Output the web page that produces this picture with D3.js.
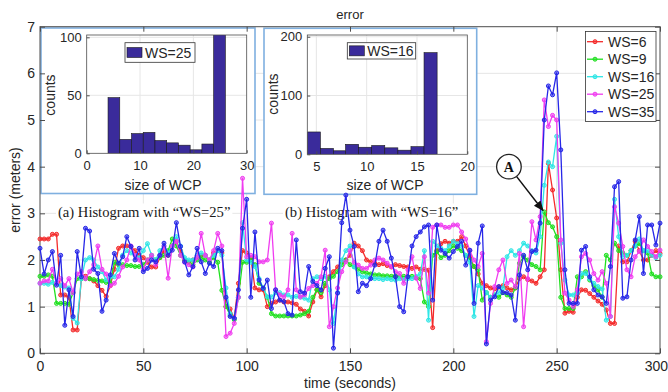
<!DOCTYPE html>
<html>
<head>
<meta charset="utf-8">
<script src="https://cdn.jsdelivr.net/npm/d3@7"></script>
<style>
  body { margin: 0; background: #fff; }
  svg { display: block; }
</style>
</head>
<body>
<svg id="chart" width="668" height="392"></svg>
<script>
// ---- data ----
const timeSec = [
  0, 2, 4, 6, 8, 10, 12, 14, 16, 18, 20, 22, 24, 26, 28, 30, 32, 34, 36, 38,
  40, 42, 44, 46, 48, 50, 52, 54, 56, 58, 60, 62, 64, 66, 68, 70, 72, 74, 76, 78,
  80, 82, 84, 86, 88, 90, 92, 94, 96, 98, 100, 102, 104, 106, 108, 110, 112, 114, 116, 118,
  120, 122, 124, 126, 128, 130, 132, 134, 136, 138, 140, 142, 144, 146, 148, 150, 152, 154, 156, 158,
  160, 162, 164, 166, 168, 170, 172, 174, 176, 178, 180, 182, 184, 186, 188, 190, 192, 194, 196, 198,
  200, 202, 204, 206, 208, 210, 212, 214, 216, 218, 220, 222, 224, 226, 228, 230, 232, 234, 236, 238,
  240, 242, 244, 246, 248, 250, 252, 254, 256, 258, 260, 262, 264, 266, 268, 270, 272, 274, 276, 278,
  280, 282, 284, 286, 288, 290, 292, 294, 296, 298, 300
];

const ws6 = [
  2.45, 2.45, 2.45, 2.55, 2.55, 1.25, 1.25, 1.2, 0.5, 0.5,
  1.6, 1.65, 1.6, 1.55, 1.45, 1.35, 1.22, 1.45, 1.8, 2.25,
  2.3, 2.3, 2.28, 2.2, 2.1, 2.05, 1.95, 1.85, 1.85, 2.05,
  2.2, 2.1, 2.3, 2.4, 2.2, 2.0, 1.95, 2.0, 2.05, 2.1,
  2.1, 2.0, 2.15, 2.2, 2.15, 1.0, 0.95, 0.75, 1.5, 2.2,
  2.15, 2.05, 1.4, 1.36, 1.36, 1.0, 1.07, 1.1, 1.14, 1.1,
  1.1, 1.08, 1.05, 0.95, 0.9, 0.8, 1.1, 1.36, 1.21, 1.45,
  1.64, 1.75, 1.85, 1.96, 2.0, 2.1, 2.36, 2.3, 2.2, 2.0,
  1.96, 1.93, 1.9, 1.92, 1.88, 1.85, 1.9, 1.88, 1.86, 1.85,
  1.82, 1.85, 1.8, 1.8, 1.78, 0.55, 2.2, 2.35, 2.4, 2.36,
  2.4, 2.4, 2.5, 2.3, 2.07, 1.86, 1.7, 1.5, 1.45, 1.4,
  1.38, 1.42, 1.45, 1.4, 1.36, 1.4, 1.6, 1.64, 1.58, 1.55,
  1.5, 1.64, 1.79, 4.07, 3.5, 2.9, 1.79, 0.86, 0.9, 0.88,
  1.2, 1.36, 1.35, 1.28, 1.2, 1.12, 1.05, 0.93, 0.64, 0.64,
  2.3, 1.96, 1.96, 2.2, 2.4, 2.2, 2.0, 2.0, 2.1, 2.2,
  2.14
];

const ws9 = [
  1.65, 1.65, 1.68, 1.65, 1.07, 1.07, 1.07, 1.05, 1.3, 1.6,
  1.6, 1.6, 1.6, 1.58, 1.56, 1.55, 1.52, 1.5, 1.95, 1.9,
  1.9, 1.88, 1.88, 1.86, 1.86, 1.9, 2.0, 2.1, 2.0, 2.05,
  2.1, 2.2, 2.45, 2.3, 2.1, 2.0, 1.95, 1.9, 2.0, 2.05,
  2.0, 1.95, 2.05, 1.95, 1.35, 1.0, 0.82, 0.72, 1.2, 1.95,
  1.95, 2.0, 1.9, 1.5, 1.4, 1.2, 0.85, 0.8, 0.8, 0.8,
  0.8, 0.8, 0.8, 0.82, 0.85, 0.9, 1.2, 1.36, 1.3, 1.5,
  1.6, 1.65, 1.75, 1.9, 2.0, 1.9, 1.86, 1.8, 1.75, 1.72,
  1.7, 1.68, 1.68, 1.66, 1.66, 1.65, 1.66, 1.64, 1.65, 1.64,
  1.65, 1.62, 1.6, 1.1, 1.0, 2.1, 2.18, 2.05, 2.1, 2.2,
  2.3, 2.25, 2.2, 2.1, 2.0, 1.86, 1.79, 1.14, 1.3, 1.2,
  1.25, 1.2, 1.3, 1.25, 1.2, 1.4, 1.93, 2.07, 2.0, 1.9,
  1.86, 1.79, 3.03, 2.8, 2.71, 2.5, 1.2, 0.96, 0.96, 0.96,
  1.64, 1.64, 1.75, 1.57, 1.45, 1.36, 1.2, 2.1, 2.0, 2.36,
  2.2, 2.15, 2.1, 2.2, 2.3, 2.35, 2.2, 2.15, 1.7, 1.64,
  1.64
];

const ws16 = [
  1.5, 1.5, 1.48, 1.52, 1.5, 1.45, 1.42, 1.4, 0.75, 0.65,
  1.6, 2.0, 2.05, 2.0, 1.85, 1.75, 1.57, 1.64, 1.64, 1.8,
  2.1, 2.2, 2.15, 2.1, 2.05, 2.2, 2.35, 2.1, 2.0, 2.2,
  2.3, 2.15, 2.3, 2.5, 2.3, 2.05, 2.0, 2.0, 2.1, 2.15,
  2.1, 2.0, 2.1, 2.2, 2.1, 1.4, 0.85, 0.75, 1.2, 2.8,
  2.0, 1.95, 1.86, 1.6, 1.4, 1.21, 1.21, 1.3, 1.3, 1.25,
  1.25, 1.2, 1.22, 1.2, 1.18, 1.14, 1.6, 1.64, 1.6, 1.65,
  1.36, 0.64, 1.3, 2.0, 2.2, 2.3, 1.85, 1.7, 1.64, 1.64,
  1.62, 1.6, 1.6, 1.58, 1.6, 1.58, 1.57, 1.6, 1.58, 1.6,
  1.6, 1.65, 1.7, 2.2, 0.71, 2.4, 2.3, 2.25, 2.2, 2.3,
  2.4, 2.35, 2.3, 2.1, 1.95, 0.79, 1.45, 1.4, 1.3, 1.2,
  1.25, 1.3, 1.4, 2.07, 2.2, 2.1, 2.2, 2.36, 2.3, 2.2,
  2.15, 2.5, 3.6, 4.1, 4.0, 4.65, 2.36, 1.57, 1.25, 1.25,
  1.3, 1.71, 1.71, 1.6, 1.5, 1.43, 1.38, 0.71, 0.79, 3.3,
  2.5, 2.07, 2.1, 2.2, 2.3, 2.45, 2.2, 2.2, 2.1, 2.05,
  2.1
];

const ws25 = [
  1.5, 1.55, 1.55, 1.8, 1.5, 1.6, 1.45, 1.6, 1.3, 1.7,
  1.75, 1.6, 1.75, 1.9, 2.3, 1.8, 1.7, 1.45, 1.5, 1.65,
  1.85, 2.0, 2.3, 2.1, 2.0, 1.8, 2.0, 2.1, 1.9, 2.1,
  2.3, 1.61, 2.3, 2.4, 2.1, 1.95, 1.9, 1.85, 2.05, 2.57,
  2.1, 2.0, 2.2, 2.57, 2.3, 0.36, 0.43, 0.64, 1.2, 3.75,
  2.07, 2.1, 2.07, 1.96, 1.96, 2.0, 2.79, 1.36, 1.25, 1.21,
  1.36, 2.57, 1.36, 1.21, 1.25, 1.39, 1.45, 1.5, 1.64, 2.21,
  0.57, 1.0, 1.4, 1.75, 1.96, 2.2, 1.95, 1.89, 1.82, 1.82,
  1.89, 2.0, 2.04, 2.0, 1.93, 1.86, 1.75, 1.71, 1.5, 1.79,
  2.07, 1.61, 1.39, 2.07, 1.29, 2.7, 2.75, 2.75, 2.7, 2.7,
  2.75, 2.75, 2.6, 2.45, 2.2, 2.0, 1.86, 2.14, 0.25, 1.07,
  1.43, 1.79, 2.0, 1.5, 1.57, 1.43, 2.14, 0.57, 1.6, 2.82,
  2.43, 2.93, 5.43, 4.86, 5.1, 5.0, 2.43, 1.29, 1.14, 1.0,
  1.36, 2.07, 2.14, 2.0, 1.71, 1.57, 1.75, 1.5, 0.79, 3.14,
  2.79, 2.29, 1.79, 1.64, 2.07, 2.18, 2.43, 2.29, 2.18, 2.07,
  2.21
];

const ws35 = [
  2.25, 1.7, 2.0, 2.18, 1.46, 2.1, 0.6, 1.36, 0.79, 2.18,
  1.64, 2.68, 2.62, 1.8, 1.71, 0.9, 1.14, 1.68, 2.14, 1.93,
  2.07, 2.5, 2.29, 2.0, 2.25, 1.75, 1.82, 2.0, 1.96, 2.1,
  2.36, 2.1, 2.21, 2.8, 2.29, 1.96, 1.68, 1.86, 2.25, 1.96,
  1.71, 1.93, 1.86, 2.25, 2.2, 1.2, 0.79, 0.75, 1.36, 2.68,
  3.3, 1.2, 2.6, 1.57, 1.39, 1.57, 0.96, 1.36, 1.14, 1.11,
  0.85, 0.82, 2.43, 1.32, 1.29, 1.86, 1.54, 1.45, 1.36, 1.82,
  2.07, 0.11, 1.29, 2.8, 3.39, 2.64, 2.29, 1.32, 1.5, 1.45,
  1.6, 1.89, 2.4, 2.64, 2.4, 2.04, 1.64, 1.0, 0.89, 1.64,
  2.3, 2.5, 2.6, 2.71, 2.75, 1.14, 2.75, 2.21, 2.14, 2.04,
  2.18, 2.29, 2.4, 1.89, 2.21, 1.07, 2.36, 2.73, 0.2, 1.14,
  1.21, 1.43, 1.3, 1.3, 1.25, 0.71, 1.68, 2.1, 1.79, 2.18,
  2.21, 2.79, 5.0, 5.73, 5.54, 6.01, 4.36, 1.79, 1.07, 1.07,
  1.07, 2.21, 2.29, 1.64, 1.36, 1.25, 1.21, 1.07, 1.86, 3.57,
  3.68, 1.18, 1.21, 2.0, 2.43, 2.93, 1.71, 2.75, 2.75, 2.32,
  2.79
];

const seriesNames = ["WS=6", "WS=9", "WS=16", "WS=25", "WS=35"];
const seriesColors = ["#f42a2a", "#1fe01f", "#2ee6e6", "#f03cf0", "#2626e8"];
const xTicks = [0, 50, 100, 150, 200, 250, 300];
const yTicks = [0, 1, 2, 3, 4, 5, 6, 7];

// histogram insets
const hist25Edges = [4, 6.2, 8.4, 10.6, 12.8, 15, 17.2, 19.4, 21.6, 23.8, 26];
const hist25Counts = [48, 12, 17, 18, 11, 9, 7, 3, 8, 110];
const hist25XTicks = [0, 10, 20, 30];
const hist25YTicks = [0, 50, 100];
const hist16Edges = [4.1, 5.4, 6.7, 7.9, 9.2, 10.5, 11.8, 13.1, 14.4, 15.7, 17.0];
const hist16Counts = [38, 10, 6, 17, 12, 15, 11, 7, 13, 173];
const hist16XTicks = [5, 10, 15, 20];
const hist16YTicks = [0, 100, 200];

// ---- drawing ----
const FONT = "Arial, 'Liberation Sans', sans-serif";
const SERIF = "'Times New Roman', 'Liberation Serif', serif";
const axisColor = "#4d4d4d";
const textColor = "#262626";
const gridColor = "#e6e6e6";
const barColor = "#3a2b9b";
const intFmt = d3.format("d");

const svg = d3.select("#chart").attr("font-family", FONT);
const plot = { left: 40, right: 660, top: 26.7, bottom: 353.3 };

const x = d3.scaleLinear().domain([0, 300]).range([plot.left, plot.right]);
const y = d3.scaleLinear().domain([0, 7]).range([plot.bottom, plot.top]);

// grid
const grid = svg.append("g").attr("class", "grid");
grid.selectAll("line.gx")
  .data(xTicks.slice(1, -1))
  .join("line")
  .attr("class", "gx")
  .attr("x1", (d) => x(d)).attr("x2", (d) => x(d))
  .attr("y1", plot.top).attr("y2", plot.bottom)
  .attr("stroke", gridColor);
grid.selectAll("line.gy")
  .data(yTicks.slice(1, -1))
  .join("line")
  .attr("class", "gy")
  .attr("y1", (d) => y(d)).attr("y2", (d) => y(d))
  .attr("x1", plot.left).attr("x2", plot.right)
  .attr("stroke", gridColor);

function styleAxis(g, size) {
  g.attr("font-family", FONT).attr("font-size", size);
  g.select(".domain").remove();
  g.selectAll(".tick line").attr("stroke", axisColor);
  g.selectAll(".tick text").attr("fill", textColor);
}

// histogram inset
function drawInset(opt) {
  const g = svg.append("g").attr("class", "inset");
  g.append("rect")
    .attr("x", opt.box.x).attr("y", opt.box.y)
    .attr("width", opt.box.w).attr("height", opt.box.h)
    .attr("fill", "#fff").attr("stroke", "#7fb0e0").attr("stroke-width", 1.6);

  const hx = d3.scaleLinear().domain(opt.xDomain).range([opt.plot.left, opt.plot.right]);
  const hy = d3.scaleLinear().domain(opt.yDomain).range([opt.plot.bottom, opt.plot.top]);

  g.selectAll("line.hgx")
    .data(opt.xTicks.filter((d) => hx(d) > opt.plot.left + 1 && hx(d) < opt.plot.right - 1))
    .join("line")
    .attr("x1", (d) => hx(d)).attr("x2", (d) => hx(d))
    .attr("y1", opt.plot.top).attr("y2", opt.plot.bottom)
    .attr("stroke", gridColor);
  g.selectAll("line.hgy")
    .data(opt.yTicks.filter((d) => hy(d) > opt.plot.top + 1 && hy(d) < opt.plot.bottom - 1))
    .join("line")
    .attr("y1", (d) => hy(d)).attr("y2", (d) => hy(d))
    .attr("x1", opt.plot.left).attr("x2", opt.plot.right)
    .attr("stroke", gridColor);

  const clipId = "clip-" + opt.id;
  g.append("clipPath").attr("id", clipId)
    .append("rect")
    .attr("x", opt.plot.left).attr("y", opt.plot.top)
    .attr("width", opt.plot.right - opt.plot.left)
    .attr("height", opt.plot.bottom - opt.plot.top);

  const bins = opt.counts.map((c, i) => ({ x0: opt.edges[i], x1: opt.edges[i + 1], c }));
  g.append("g").attr("clip-path", `url(#${clipId})`)
    .selectAll("rect")
    .data(bins)
    .join("rect")
    .attr("x", (d) => hx(d.x0))
    .attr("width", (d) => hx(d.x1) - hx(d.x0))
    .attr("y", (d) => hy(d.c))
    .attr("height", (d) => hy(0) - hy(d.c))
    .attr("fill", barColor)
    .attr("stroke", "#1a1a1a")
    .attr("stroke-width", 0.6);

  const ax = g.append("g").attr("transform", `translate(0,${opt.plot.bottom})`)
    .call(d3.axisBottom(hx).tickValues(opt.xTicks).tickFormat(intFmt)
      .tickSizeInner(-3).tickSizeOuter(0).tickPadding(7));
  styleAxis(ax, 13);
  const ay = g.append("g").attr("transform", `translate(${opt.plot.left},0)`)
    .call(d3.axisLeft(hy).tickValues(opt.yTicks).tickFormat(intFmt)
      .tickSizeInner(-3).tickSizeOuter(0).tickPadding(5));
  styleAxis(ay, 13);

  g.append("rect")
    .attr("x", opt.plot.left).attr("y", opt.plot.top)
    .attr("width", opt.plot.right - opt.plot.left)
    .attr("height", opt.plot.bottom - opt.plot.top)
    .attr("fill", "none").attr("stroke", axisColor).attr("stroke-width", 0.8);

  g.append("text")
    .attr("transform", `translate(${opt.countsLabel[0]},${opt.countsLabel[1]}) rotate(-90)`)
    .attr("text-anchor", "middle").attr("font-size", 14).attr("fill", textColor)
    .text("counts");
  g.append("text")
    .attr("x", opt.xLabel[0]).attr("y", opt.xLabel[1])
    .attr("text-anchor", "middle").attr("font-size", 14).attr("fill", textColor)
    .text("size of WCP");

  const lg = g.append("g");
  lg.append("rect")
    .attr("x", opt.legend.x).attr("y", opt.legend.y)
    .attr("width", opt.legend.w).attr("height", opt.legend.h)
    .attr("fill", "#fff").attr("stroke", "#333").attr("stroke-width", 0.8);
  lg.append("rect")
    .attr("x", opt.legend.x + 2).attr("y", opt.legend.y + opt.legend.h / 2 - 5)
    .attr("width", 15).attr("height", 10)
    .attr("fill", barColor).attr("stroke", "#1a1a1a").attr("stroke-width", 0.6);
  lg.append("text")
    .attr("x", opt.legend.x + 20).attr("y", opt.legend.y + opt.legend.h / 2)
    .attr("dy", "0.36em").attr("font-size", 14).attr("fill", textColor)
    .text(opt.label);
}

drawInset({
  id: "ws25",
  box: { x: 41, y: 28, w: 214, h: 165.5 },
  plot: { left: 86.7, right: 246.7, top: 35, bottom: 153.3 },
  xDomain: [0, 30], yDomain: [0, 102],
  xTicks: hist25XTicks, yTicks: hist25YTicks,
  edges: hist25Edges, counts: hist25Counts,
  countsLabel: [55, 95], xLabel: [163, 189.5],
  legend: { x: 125, y: 42.7, w: 70, h: 19.6 },
  label: "WS=25",
});

drawInset({
  id: "ws16",
  box: { x: 264, y: 28.3, w: 212.7, h: 166 },
  plot: { left: 307.3, right: 467.3, top: 35, bottom: 154.3 },
  xDomain: [4.1, 20], yDomain: [0, 203],
  xTicks: hist16XTicks, yTicks: hist16YTicks,
  edges: hist16Edges, counts: hist16Counts,
  countsLabel: [278, 94], xLabel: [385, 190],
  legend: { x: 347.3, y: 42.7, w: 68.4, h: 16.3 },
  label: "WS=16",
});

// captions
const captions = [
  { text: "(a) Histogram with \u201CWS=25\u201D", x: 58 },
  { text: "(b) Histogram with \u201CWS=16\u201D", x: 285 },
];
captions.forEach((c) => {
  const cg = svg.append("g");
  const bg = cg.append("rect").attr("fill", "#fff");
  const t = cg.append("text")
    .attr("x", c.x).attr("y", 216.5)
    .attr("font-family", SERIF).attr("font-size", 14.6).attr("fill", "#1a1a1a")
    .text(c.text);
  const bb = t.node().getBBox();
  bg.attr("x", bb.x - 2).attr("y", bb.y).attr("width", bb.width + 4).attr("height", bb.height);
});

// axes
const gxAxis = svg.append("g").attr("transform", `translate(0,${plot.bottom})`)
  .call(d3.axisBottom(x).tickValues(xTicks).tickFormat(intFmt)
    .tickSizeInner(-5).tickSizeOuter(0).tickPadding(8));
styleAxis(gxAxis, 14);
// keep the last label inside the page
gxAxis.selectAll(".tick text").filter((d) => d === 300).attr("text-anchor", "end").attr("dx", 7.5);
const gyAxis = svg.append("g").attr("transform", `translate(${plot.left},0)`)
  .call(d3.axisLeft(y).tickValues(yTicks).tickFormat(intFmt)
    .tickSizeInner(-5).tickSizeOuter(0).tickPadding(5));
styleAxis(gyAxis, 14);
const gTop = svg.append("g").attr("transform", `translate(0,${plot.top})`)
  .call(d3.axisTop(x).tickValues(xTicks).tickSizeInner(-5).tickSizeOuter(0).tickFormat(""));
styleAxis(gTop, 14);
const gRight = svg.append("g").attr("transform", `translate(${plot.right},0)`)
  .call(d3.axisRight(y).tickValues(yTicks).tickSizeInner(-5).tickSizeOuter(0).tickFormat(""));
styleAxis(gRight, 14);

svg.append("rect")
  .attr("x", plot.left).attr("y", plot.top)
  .attr("width", plot.right - plot.left).attr("height", plot.bottom - plot.top)
  .attr("fill", "none").attr("stroke", axisColor).attr("stroke-width", 1);

// series
const seriesValues = [ws6, ws9, ws16, ws25, ws35];
const line = d3.line()
  .x((d, i) => x(timeSec[i]))
  .y((d) => y(d));

const seriesLayer = svg.append("g").attr("class", "series");
seriesValues.forEach((vals, k) => {
  const sg = seriesLayer.append("g");
  sg.append("path")
    .datum(vals)
    .attr("d", line)
    .attr("fill", "none")
    .attr("stroke", seriesColors[k])
    .attr("stroke-width", 1.3)
    .attr("stroke-linejoin", "round");
  sg.selectAll("circle")
    .data(vals)
    .join("circle")
    .attr("cx", (d, i) => x(timeSec[i]))
    .attr("cy", (d) => y(d))
    .attr("r", 2)
    .attr("fill", seriesColors[k])
    .attr("fill-opacity", 0.55)
    .attr("stroke", seriesColors[k])
    .attr("stroke-width", 1);
});

// labels
svg.append("text")
  .attr("x", (plot.left + plot.right) / 2).attr("y", 19)
  .attr("text-anchor", "middle").attr("font-size", 13).attr("fill", textColor)
  .text("error");
svg.append("text")
  .attr("x", (plot.left + plot.right) / 2).attr("y", 388)
  .attr("text-anchor", "middle").attr("font-size", 14).attr("fill", textColor)
  .text("time (seconds)");
svg.append("text")
  .attr("transform", `translate(20,${(plot.top + plot.bottom) / 2}) rotate(-90)`)
  .attr("text-anchor", "middle").attr("font-size", 14).attr("fill", textColor)
  .text("error (meters)");

// legend
const legend = svg.append("g").attr("class", "legend");
legend.append("rect")
  .attr("x", 585.5).attr("y", 31.5).attr("width", 70.5).attr("height", 90)
  .attr("fill", "#fff").attr("stroke", "#333").attr("stroke-width", 0.8);
const items = legend.selectAll("g.item")
  .data(seriesNames)
  .join("g")
  .attr("class", "item")
  .attr("transform", (d, i) => `translate(587, ${41.7 + i * 17.5})`);
items.append("line")
  .attr("x1", 0).attr("x2", 16)
  .attr("stroke", (d, i) => seriesColors[i]).attr("stroke-width", 1.3);
items.append("circle")
  .attr("cx", 8).attr("r", 2)
  .attr("fill", (d, i) => seriesColors[i]).attr("fill-opacity", 0.55)
  .attr("stroke", (d, i) => seriesColors[i]);
items.append("text")
  .attr("x", 21).attr("dy", "0.36em")
  .attr("font-size", 14).attr("fill", textColor)
  .text((d) => d);

// annotation "A"
const annCenter = [x(226.9), y(4.0)];
const annTip = [x(243.4), y(3.06)];
const defs = svg.append("defs");
defs.append("marker")
  .attr("id", "arrow").attr("viewBox", "0 0 10 10")
  .attr("refX", 9).attr("refY", 5)
  .attr("markerWidth", 7).attr("markerHeight", 7)
  .attr("orient", "auto")
  .append("path").attr("d", "M0,1 L10,5 L0,9 Z").attr("fill", "#111");
const dx = annTip[0] - annCenter[0];
const dy = annTip[1] - annCenter[1];
const len = Math.hypot(dx, dy);
const r = 12.3;
svg.append("line")
  .attr("x1", annCenter[0] + (dx / len) * r).attr("y1", annCenter[1] + (dy / len) * r)
  .attr("x2", annTip[0]).attr("y2", annTip[1])
  .attr("stroke", "#111").attr("stroke-width", 1.5)
  .attr("marker-end", "url(#arrow)");
svg.append("circle")
  .attr("cx", annCenter[0]).attr("cy", annCenter[1]).attr("r", r)
  .attr("fill", "#fff").attr("stroke", "#222").attr("stroke-width", 1.3);
svg.append("text")
  .attr("x", annCenter[0]).attr("y", annCenter[1])
  .attr("dy", "0.35em").attr("text-anchor", "middle")
  .attr("font-family", SERIF).attr("font-weight", "bold").attr("font-size", 14)
  .attr("fill", "#111")
  .text("A");
</script>
</body>
</html>
